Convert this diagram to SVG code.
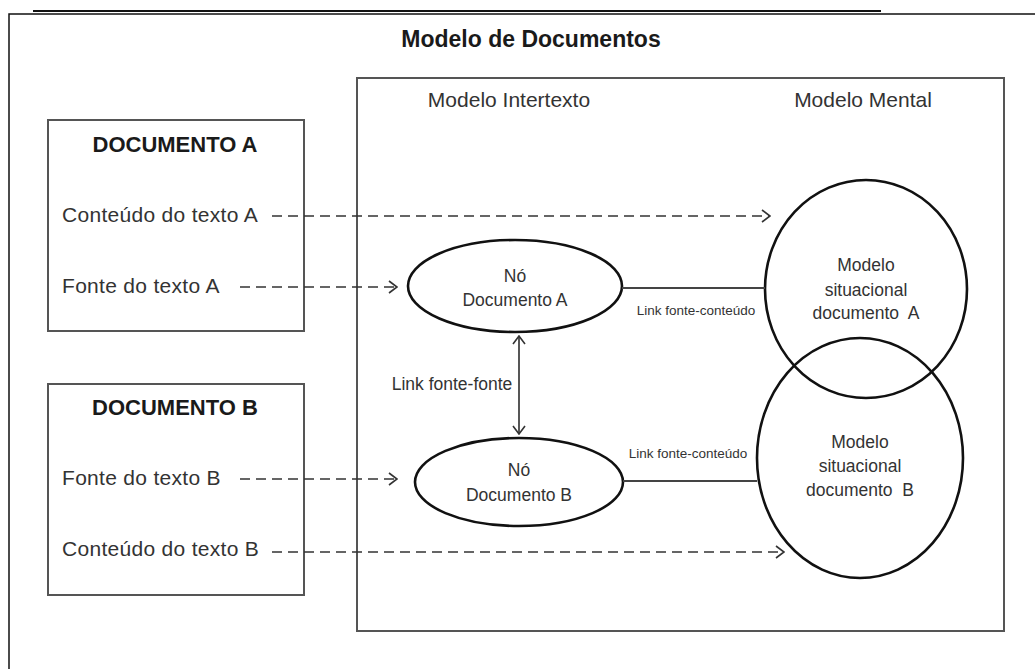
<svg xmlns="http://www.w3.org/2000/svg" width="1035" height="669" viewBox="0 0 1035 669">
<defs>
<marker id="chev" viewBox="0 0 10 14" refX="9" refY="7" markerWidth="10" markerHeight="14" markerUnits="userSpaceOnUse" orient="auto-start-reverse">
<path d="M1,1 L9,7 L1,13" fill="none" stroke="#333" stroke-width="1.6"/>
</marker>
</defs>
<style>
text{font-family:"Liberation Sans",Arial,sans-serif;fill:#333}
.b{font-weight:bold;fill:#1a1a1a}
.doc{font-size:21px;letter-spacing:0.3px}
.hd{font-size:22px}
.tt{font-size:23px}
.md{font-size:21px}
.ct{font-size:17.5px}
.nd{font-size:17.5px}
.sm{font-size:13.5px}
.box{fill:none;stroke:#555;stroke-width:2}
.ell{fill:none;stroke:#111;stroke-width:2.6}
.dash{fill:none;stroke:#333;stroke-width:1.6;stroke-dasharray:10 6}
.ln{fill:none;stroke:#444;stroke-width:1.8}
</style>
<rect width="1035" height="669" fill="#fff"/>
<line x1="33" y1="11" x2="881" y2="11" stroke="#111" stroke-width="2"/>
<path d="M9,669 V14 H1035" fill="none" stroke="#111" stroke-width="1.5"/>
<text class="b tt" x="531" y="47" text-anchor="middle">Modelo de Documentos</text>
<g id="modelo-box">
<rect class="box" x="357" y="78" width="647" height="553"/>
<text class="md" x="509" y="107" text-anchor="middle">Modelo Intertexto</text>
<text class="md" x="863" y="107" text-anchor="middle">Modelo Mental</text>
</g>
<g id="documento-a">
<rect class="box" x="48" y="120" width="256" height="211"/>
<text class="b hd" x="175" y="152" text-anchor="middle">DOCUMENTO A</text>
<text class="doc" x="62" y="222">Conteúdo do texto A</text>
<text class="doc" x="62" y="293">Fonte do texto A</text>
</g>
<g id="documento-b">
<rect class="box" x="48" y="384" width="256" height="211"/>
<text class="b hd" x="175" y="415" text-anchor="middle">DOCUMENTO B</text>
<text class="doc" x="62" y="485">Fonte do texto B</text>
<text class="doc" x="62" y="556">Conteúdo do texto B</text>
</g>
<g id="no-documento-a">
<ellipse class="ell" cx="515" cy="286" rx="107" ry="46"/>
<text class="nd" x="515" y="282" text-anchor="middle">Nó</text>
<text class="nd" x="515" y="306" text-anchor="middle">Documento A</text>
</g>
<g id="no-documento-b">
<ellipse class="ell" cx="519" cy="482" rx="104" ry="44"/>
<text class="nd" x="519" y="476" text-anchor="middle">Nó</text>
<text class="nd" x="519" y="501" text-anchor="middle">Documento B</text>
</g>
<g id="modelo-situacional-a">
<ellipse class="ell" cx="866" cy="289" rx="101" ry="109"/>
<text class="ct" x="866" y="271" text-anchor="middle">Modelo</text>
<text class="ct" x="866" y="296" text-anchor="middle">situacional</text>
<text class="ct" x="866" y="319" text-anchor="middle" xml:space="preserve">documento  A</text>
</g>
<g id="modelo-situacional-b">
<ellipse class="ell" cx="860" cy="458" rx="103" ry="120"/>
<text class="ct" x="860" y="448" text-anchor="middle">Modelo</text>
<text class="ct" x="860" y="472" text-anchor="middle">situacional</text>
<text class="ct" x="860" y="496" text-anchor="middle" xml:space="preserve">documento  B</text>
</g>
<g id="connectors">
<line class="dash" x1="272" y1="216" x2="770" y2="216" marker-end="url(#chev)"/>
<line class="dash" x1="240" y1="287" x2="397" y2="287" marker-end="url(#chev)"/>
<line class="dash" x1="240" y1="479" x2="397" y2="479" marker-end="url(#chev)"/>
<line class="dash" x1="272" y1="552" x2="784" y2="552" marker-end="url(#chev)"/>
<line class="ln" x1="519" y1="336" x2="519" y2="434" marker-start="url(#chev)" marker-end="url(#chev)"/>
<line class="ln" x1="622" y1="288" x2="765" y2="288"/>
<line class="ln" x1="623" y1="481" x2="757" y2="481"/>
<text class="sm" x="696" y="315" text-anchor="middle">Link fonte-conteúdo</text>
<text class="sm" x="688" y="458" text-anchor="middle">Link fonte-conteúdo</text>
<text class="nd" x="452" y="390" text-anchor="middle">Link fonte-fonte</text>
</g>
</svg>
